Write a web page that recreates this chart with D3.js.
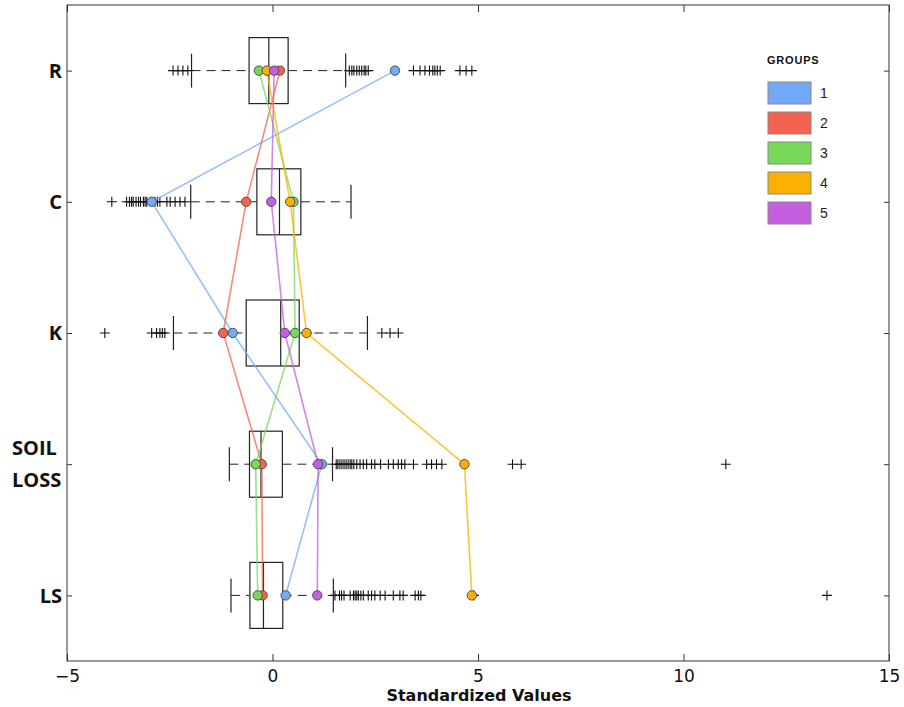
<!DOCTYPE html>
<html><head><meta charset="utf-8">
<script src="https://cdn.jsdelivr.net/npm/d3@7"></script>
<style>body{margin:0;background:#fff;} svg{display:block;}</style>
</head><body>
<svg id="chart" width="904" height="707"></svg>
<script>
const categories = ["R", "C", "K", "SOIL LOSS", "LS"];
const xTicks = [-5, 0, 5, 10, 15];
// box stats per category: [lowWhisker, q1, median, q3, highWhisker]
const boxStats = [
  [-1.97, -0.57, -0.09, 0.38, 1.78],
  [-1.99, -0.38, 0.17, 0.69, 1.91],
  [-2.41, -0.64, 0.20, 0.65, 2.31],
  [-1.05, -0.56, -0.28, 0.24, 1.46],
  [-1.01, -0.55, -0.22, 0.25, 1.48]
];
const outliersR = [-2.42, -2.30, -2.18, -2.06, 1.87, 1.93, 1.98, 2.05, 2.11, 2.17, 2.23, 2.27, 2.33,
  3.43, 3.59, 3.71, 3.82, 3.90, 3.95, 4.01, 4.08, 4.56, 4.71, 4.85];
const outliersC = [-3.91, -3.55, -3.48, -3.43, -3.39, -3.32, -3.26, -3.21, -3.14, -3.10, -3.06,
  -2.86, -2.80, -2.74, -2.57, -2.49, -2.37, -2.25, -2.13];
const outliersK = [-4.08, -2.94, -2.82, -2.74, -2.68, -2.62, 2.66, 2.86, 3.06];
const outliersSoilLoss = [1.55, 1.59, 1.64, 1.69, 1.74, 1.79, 1.84, 1.89, 1.93, 1.98, 2.05, 2.13, 2.21,
  2.29, 2.41, 2.49, 2.63, 2.82, 2.94, 3.06, 3.14, 3.22, 3.43, 3.75, 3.87, 3.99, 4.12, 5.84, 6.05, 11.03];
const outliersLS = [1.52, 1.63, 1.68, 1.74, 1.89, 1.97, 2.01, 2.05, 2.09, 2.15, 2.21, 2.33, 2.41, 2.49,
  2.62, 2.74, 2.94, 3.10, 3.18, 3.47, 3.55, 3.61, 4.90, 13.49];
const outliers = [outliersR, outliersC, outliersK, outliersSoilLoss, outliersLS];
// group means per category (R, C, K, SOIL LOSS, LS)
const groups = ["1", "2", "3", "4", "5"];
const group1 = [2.98, -2.94, -0.97, 1.20, 0.32];
const group2 = [0.18, -0.64, -1.20, -0.26, -0.24];
const group3 = [-0.33, 0.51, 0.55, -0.41, -0.36];
const group4 = [-0.14, 0.43, 0.83, 4.67, 4.85];
const group5 = [0.04, -0.03, 0.30, 1.11, 1.09];
const groupValues = [group1, group2, group3, group4, group5];
const groupColors = ["#74a9f7", "#f4634f", "#77d85a", "#fbb003", "#c65ee0"];

const svg = d3.select("#chart");
const L = 67, R = 889, T = 5, B = 661;
const x = d3.scaleLinear().domain([-5, 15]).range([L, R]);
const y = d3.scalePoint().domain(categories).range([T, B]).padding(0.5);
const boxH = 33, capH = 17;

// frame
svg.append("rect").attr("x", L).attr("y", T).attr("width", R - L).attr("height", B - T)
  .attr("fill", "none").attr("stroke", "#333").attr("stroke-width", 1);

// axes
const xb = svg.append("g").attr("transform", `translate(0,${B})`)
  .call(d3.axisBottom(x).tickValues(xTicks).tickSizeInner(-7).tickSizeOuter(0).tickPadding(9)
    .tickFormat(d => d < 0 ? "\u2212" + Math.abs(d) : d));
xb.select(".domain").remove();
xb.selectAll("line").attr("stroke", "#333");
xb.selectAll("text").attr("font-family", "DejaVu Sans").attr("font-size", 17).attr("fill", "#111");
const xt = svg.append("g").attr("transform", `translate(0,${T})`)
  .call(d3.axisTop(x).tickValues(xTicks).tickSizeInner(-7).tickSizeOuter(0).tickFormat(""));
xt.select(".domain").remove(); xt.selectAll("line").attr("stroke", "#333");

const yl = svg.append("g").attr("transform", `translate(${L},0)`)
  .call(d3.axisLeft(y).tickSizeInner(-5).tickSizeOuter(0).tickFormat(""));
yl.select(".domain").remove(); yl.selectAll("line").attr("stroke", "#333");
const yr = svg.append("g").attr("transform", `translate(${R},0)`)
  .call(d3.axisRight(y).tickSizeInner(-5).tickSizeOuter(0).tickFormat(""));
yr.select(".domain").remove(); yr.selectAll("line").attr("stroke", "#333");

// y labels
categories.forEach(c => {
  const lines = c.split(" ");
  const t = svg.append("text").attr("font-family", "Open Sans").attr("font-weight", "bold")
    .attr("font-size", 20).attr("fill", "#111");
  if (lines.length === 1) {
    t.attr("x", 62).attr("y", y(c)).attr("dy", "0.36em").attr("text-anchor", "end").text(c);
  } else {
    lines.forEach((ln, i) => {
      t.append("tspan").attr("x", 12).attr("y", y(c) + (i - 0.5) * 32).attr("dy", "0.36em").text(ln);
    });
  }
});

svg.append("text").attr("x", (L + R) / 2 + 1).attr("y", 701).attr("text-anchor", "middle")
  .attr("font-family", "DejaVu Sans").attr("font-weight", "bold")
  .attr("font-size", 16).attr("fill", "#111").text("Standardized Values");

// boxplots
const g = svg.append("g");
categories.forEach((c, i) => {
  const [lw, q1, md, q3, hw] = boxStats[i];
  const cy = y(c);
  g.append("line").attr("x1", x(lw)).attr("x2", x(q1)).attr("y1", cy).attr("y2", cy)
    .attr("stroke", "#222").attr("stroke-dasharray", "9,6");
  g.append("line").attr("x1", x(q3)).attr("x2", x(hw)).attr("y1", cy).attr("y2", cy)
    .attr("stroke", "#222").attr("stroke-dasharray", "9,6");
  [lw, hw].forEach(v => g.append("line").attr("x1", x(v)).attr("x2", x(v))
    .attr("y1", cy - capH).attr("y2", cy + capH).attr("stroke", "#222").attr("stroke-width", 1.2));
  g.append("rect").attr("x", x(q1)).attr("y", cy - boxH).attr("width", x(q3) - x(q1)).attr("height", 2 * boxH)
    .attr("fill", "none").attr("stroke", "#222").attr("stroke-width", 1.2);
  g.append("line").attr("x1", x(md)).attr("x2", x(md)).attr("y1", cy - boxH).attr("y2", cy + boxH)
    .attr("stroke", "#222").attr("stroke-width", 1.2);
  outliers[i].forEach(v => {
    g.append("path").attr("d", `M${x(v) - 5},${cy}H${x(v) + 5}M${x(v)},${cy - 5}V${cy + 5}`)
      .attr("stroke", "#111").attr("stroke-width", 1.1).attr("fill", "none");
  });
});

// group lines
const line = d3.line().x(d => x(d.v)).y(d => y(d.c));
groupValues.forEach((vals, gi) => {
  const pts = vals.map((v, i) => ({ v, c: categories[i] }));
  svg.append("path").attr("d", line(pts)).attr("fill", "none")
    .attr("stroke", groupColors[gi]).attr("stroke-opacity", 0.75).attr("stroke-width", 1.6);
});
groupValues.forEach((vals, gi) => {
  vals.forEach((v, i) => {
    svg.append("circle").attr("cx", x(v)).attr("cy", y(categories[i])).attr("r", 4.7)
      .attr("fill", groupColors[gi]).attr("stroke", "#444").attr("stroke-width", 0.9);
  });
});

// legend
const lg = svg.append("g");
lg.append("text").attr("x", 767).attr("y", 64).attr("font-family", "Liberation Sans").attr("font-weight", "bold")
  .attr("font-size", 11).attr("letter-spacing", 0.8).attr("fill", "#111").text("GROUPS");
groups.forEach((gname, i) => {
  lg.append("rect").attr("x", 768).attr("y", 82 + i * 30).attr("width", 43).attr("height", 22)
    .attr("fill", groupColors[i]).attr("stroke", "#888").attr("stroke-width", 1);
  lg.append("text").attr("x", 820).attr("y", 93 + i * 30).attr("dy", "0.36em")
    .attr("font-family", "Liberation Sans").attr("font-size", 14).attr("fill", "#222").text(gname);
});
</script>
</body></html>
